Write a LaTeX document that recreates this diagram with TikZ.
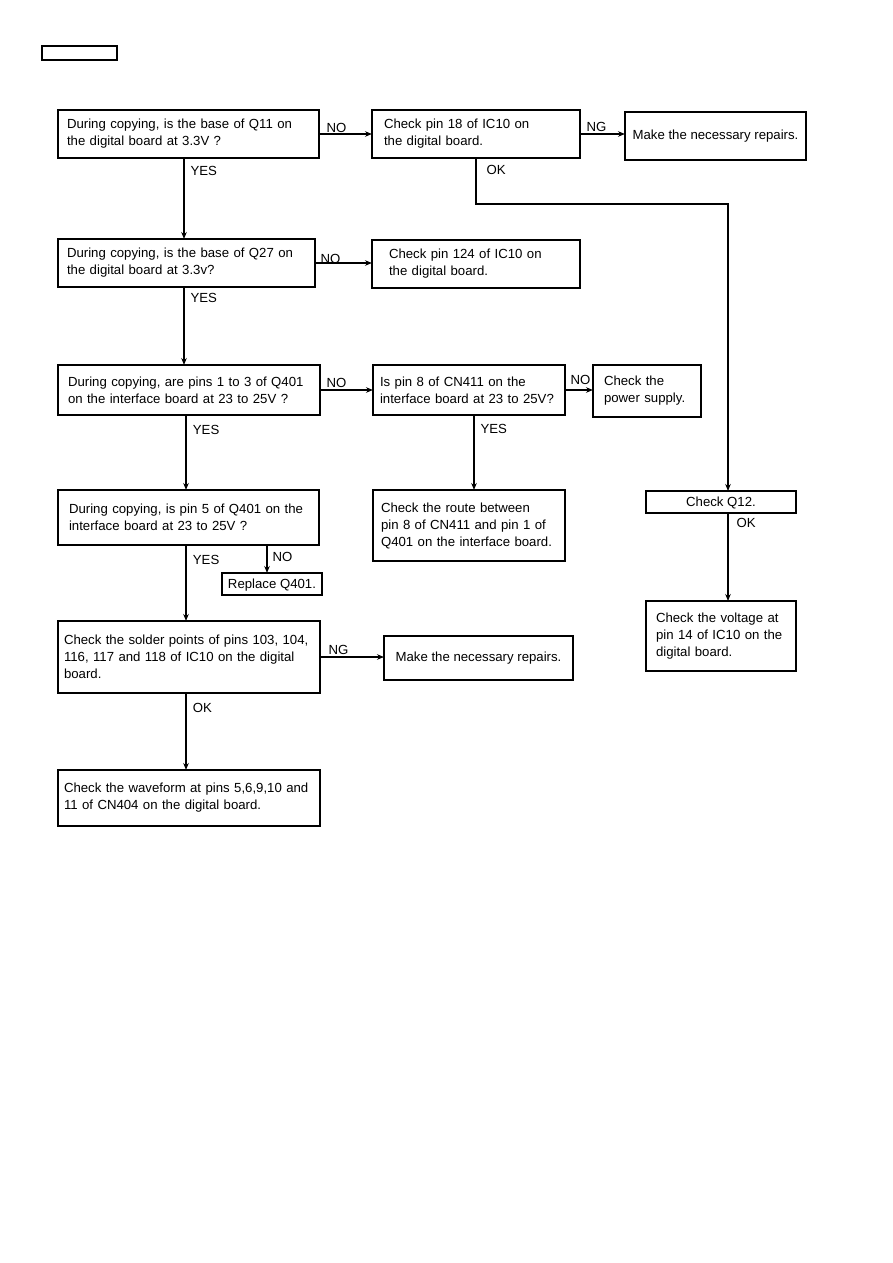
\documentclass[tikz,border=0pt]{standalone}
\usepackage{fontspec}
\setmainfont{Liberation Sans}
\usetikzlibrary{arrows.meta}

\begin{document}
\begin{tikzpicture}[
  x=1pt, y=-1pt,
  box/.style={draw, line width=1.5pt, anchor=north west, align=left, outer sep=0pt,
              inner ysep=0pt, font={\fontsize{13.2}{17}\selectfont}},
  onebox/.style={box, text height=9.5pt, text depth=0pt},
  lbl/.style={inner sep=0pt, font={\fontsize{13.2}{17}\selectfont}},
  arr/.style={line width=1.2pt, -{Stealth[length=7pt, width=5.5pt]}},
  arrb/.style={arr, line width=1.8pt},
]
\fill[white] (0,0) rectangle (893,1263);
\useasboundingbox (0,0) rectangle (893,1263);

\node[draw, line width=1.3pt, anchor=north west, outer sep=0pt, inner sep=0pt,
      minimum width=75, minimum height=14] (hdr) at (42,46) {};

% first row
\node[box, minimum width=261, minimum height=48, text width=243, inner xsep=9] (q11) at (58,110)
  {During copying, is the base of Q11 on\\the digital board at 3.3V ?};
\node[box, minimum width=208, minimum height=48, text width=184, inner xsep=12] (pin18) at (372,110)
  {Check pin 18 of IC10 on\\the digital board.};
\node[box, minimum width=181, minimum height=48] (repairA) at (625,112)
  {Make the necessary repairs.};

% second row
\node[box, minimum width=257, minimum height=48, text width=239, inner xsep=9] (q27) at (58,239)
  {During copying, is the base of Q27 on\\the digital board at 3.3v?};
\node[box, minimum width=208, minimum height=48, text width=174, inner xsep=17] (pin124) at (372,240)
  {Check pin 124 of IC10 on\\the digital board.};

% third row
\node[box, minimum width=262, minimum height=50, text width=242, inner xsep=10] (q401a) at (58,365)
  {During copying, are pins 1 to 3 of Q401\\on the interface board at 23 to 25V ?};
\node[box, minimum width=192, minimum height=50, text width=178, inner xsep=7] (cn411) at (373,365)
  {Is pin 8 of CN411 on the\\interface board at 23 to 25V?};
\node[box, minimum width=108, minimum height=52, text width=86, inner xsep=11] (power) at (593,365)
  {Check the\\power supply.};

% fourth row
\node[box, minimum width=261, minimum height=55, text width=239, inner xsep=11] (q401b) at (58,490)
  {During copying, is pin 5 of Q401 on the\\interface board at 23 to 25V ?};
\node[box, minimum width=192, minimum height=71, text width=176, inner xsep=8] (route) at (373,490)
  {Check the route between\\pin 8 of CN411 and pin 1 of\\Q401 on the interface board.};
\node[onebox, minimum width=100, minimum height=22] (replace) at (222,573)
  {Replace Q401.};
\node[onebox, minimum width=150, minimum height=22] (q12) at (646,491)
  {Check Q12.};
\node[box, minimum width=150, minimum height=70, text width=130, inner xsep=10] (volt) at (646,601)
  {Check the voltage at\\pin 14 of IC10 on the\\digital board.};

% last rows
\node[box, minimum width=262, minimum height=72, text width=250, inner xsep=6] (solder) at (58,621)
  {Check the solder points of pins 103, 104,\\116, 117 and 118 of IC10 on the digital\\board.};
\node[box, minimum width=189, minimum height=44] (repairB) at (384,636)
  {Make the necessary repairs.};
\node[box, minimum width=262, minimum height=56, text width=250, inner xsep=6] (wave) at (58,770)
  {Check the waveform at pins 5,6,9,10 and\\11 of CN404 on the digital board.};

% connectors
\draw[arr] (q11.east) -- node[lbl, pos=0, anchor=south west, xshift=7pt, yshift=1pt] {NO} (pin18.west);
\draw[arr] (pin18.east) -- node[lbl, pos=0, anchor=south west, xshift=6pt, yshift=2pt] {NG} (pin18.east -| repairA.west);
\draw[arr] ([xshift=-4.5pt]q11.south) -- node[lbl, pos=0, anchor=north west, xshift=6pt, yshift=-8pt] {YES}
  ([xshift=-4.5pt]q11.south |- q27.north);
\draw[arr, line width=1.4pt] (pin18.south) -- node[lbl, pos=0, anchor=north west, xshift=10pt, yshift=-7pt] {OK}
  ++(0,46) -| ([xshift=7pt]q12.north);

\draw[arr] (q27.east) -- node[lbl, pos=0, anchor=south west, xshift=5pt, yshift=-1pt] {NO} (q27.east -| pin124.west);
\draw[arr] ([xshift=-2.5pt]q27.south) -- node[lbl, pos=0, anchor=north west, xshift=6pt, yshift=-6pt] {YES}
  ([xshift=-2.5pt]q27.south |- q401a.north);

\draw[arr] (q401a.east) -- node[lbl, pos=0, anchor=south west, xshift=6pt, yshift=2pt] {NO} (cn411.west);
\draw[arr] (cn411.east) -- node[lbl, pos=0, anchor=south west, xshift=5pt, yshift=5pt] {NO} (cn411.east -| power.west);
\draw[arrb] ([xshift=-3pt]q401a.south) -- node[lbl, pos=0, anchor=north west, xshift=6pt, yshift=-9pt] {YES}
  ([xshift=-3pt]q401a.south |- q401b.north);
\draw[arr] ([xshift=5pt]cn411.south) -- node[lbl, pos=0, anchor=north west, xshift=6pt, yshift=-9pt] {YES}
  ([xshift=5pt]cn411.south |- route.north);

\draw[arrb] ([xshift=-2.5pt]q401b.south) -- node[lbl, pos=0, anchor=north west, xshift=6pt, yshift=-9pt] {YES}
  ([xshift=-2.5pt]q401b.south |- solder.north);
\draw[arr] ([xshift=-5pt]replace.north |- q401b.south) -- node[lbl, pos=0, anchor=north west, xshift=5pt, yshift=-7pt] {NO}
  ([xshift=-5pt]replace.north);
\draw[arr] ([xshift=7pt]q12.south) -- node[lbl, pos=0, anchor=north west, xshift=8pt, yshift=-5pt] {OK}
  ([xshift=7pt]volt.north);

\draw[arr] (solder.east) -- node[lbl, pos=0, anchor=south west, xshift=8pt, yshift=2pt] {NG} (solder.east -| repairB.west);
\draw[arrb] ([xshift=-3pt]solder.south) -- node[lbl, pos=0, anchor=north west, xshift=6pt, yshift=-9pt] {OK}
  ([xshift=-3pt]solder.south |- wave.north);

\end{tikzpicture}
\end{document}
